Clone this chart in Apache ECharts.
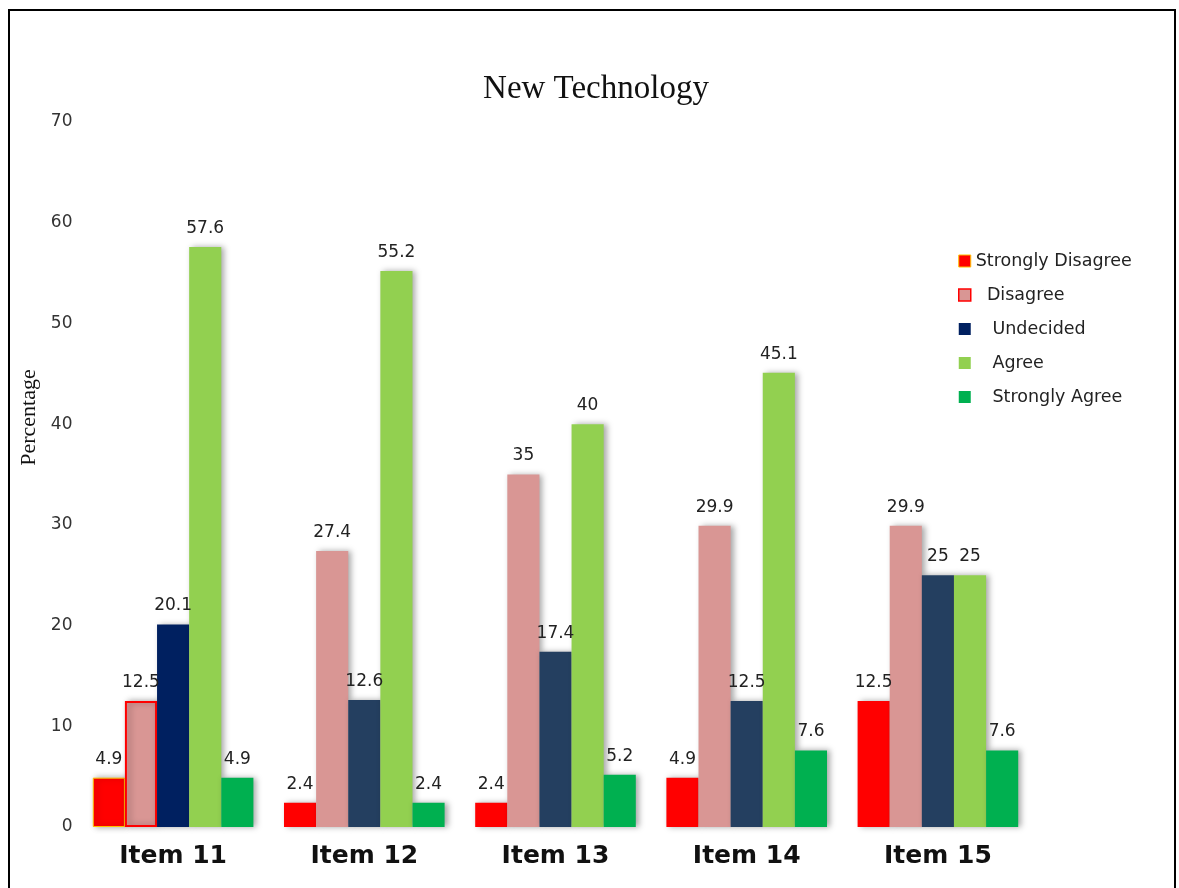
<!DOCTYPE html>
<html>
<head>
<meta charset="utf-8">
<title>New Technology</title>
<script src="https://cdn.jsdelivr.net/npm/echarts@6/dist/echarts.min.js"></script>
<style>
  html, body { margin: 0; padding: 0; background: #fff; }
  #chart { width: 1179px; height: 888px; }
</style>
</head>
<body>
<div id="chart"></div>
<script>
// Response categories per survey item (percent of respondents)
const categories = ['Item 11', 'Item 12', 'Item 13', 'Item 14', 'Item 15'];
const seriesNames = ['Strongly Disagree', 'Disagree', 'Undecided', 'Agree', 'Strongly Agree'];
const stronglyDisagree = [4.9, 2.4, 2.4, 4.9, 12.5];
const disagree = [12.5, 27.4, 35, 29.9, 29.9];
const undecided = [20.1, 12.6, 17.4, 12.5, 25];
const agree = [57.6, 55.2, 40, 45.1, 25];
const stronglyAgree = [4.9, 2.4, 5.2, 7.6, 7.6];
const yTicks = [0, 10, 20, 30, 40, 50, 60, 70];

const colors = ['#ff0000', '#d99694', '#243f60', '#92d050', '#00b050'];
const values = [stronglyDisagree, disagree, undecided, agree, stronglyAgree];

// First group has its own outline / fill tweaks
const firstGroupStyle = [
  { borderColor: '#ffc000', borderWidth: 1 },
  { borderColor: '#ff0000', borderWidth: 2 },
  { color: '#002060' },
  null,
  null
];
const legendStyle = [
  { borderColor: '#ffc000', borderWidth: 1 },
  { borderColor: '#ff0000', borderWidth: 1.5 },
  { color: '#002060' },
  {},
  {}
];
const legendPad = ['', '  ', '   ', '   ', '   '];

const labelFont = 'DejaVu Sans';

const chart = echarts.init(document.getElementById('chart'), null, { renderer: 'canvas' });

const series = seriesNames.map((name, i) => ({
  name: name,
  type: 'bar',
  barGap: '0%',
  barCategoryGap: '16%',
  data: values[i].map((v, j) => {
    const item = { value: v };
    if (j === 0 && firstGroupStyle[i]) item.itemStyle = firstGroupStyle[i];
    return item;
  }),
  itemStyle: {
    color: colors[i],
    shadowColor: 'rgba(0,0,0,0.35)',
    shadowBlur: 6,
    shadowOffsetX: 3,
    shadowOffsetY: 0
  },
  label: {
    show: true,
    position: 'top',
    distance: 10,
    color: '#222',
    fontFamily: labelFont,
    fontSize: 17
  },
  emphasis: { disabled: true }
}));

chart.setOption({
  animation: false,
  backgroundColor: '#fff',
  title: {
    text: 'New Technology',
    left: 591,
    top: 68,
    textAlign: 'center',
    textStyle: {
      fontFamily: 'Liberation Serif',
      fontWeight: 'normal',
      fontSize: 33,
      color: '#111'
    }
  },
  legend: {
    orient: 'vertical',
    left: 953,
    top: 247,
    itemWidth: 12,
    itemHeight: 12,
    itemGap: 16,
    icon: 'rect',
    data: seriesNames.map((n, i) => ({ name: n, itemStyle: legendStyle[i] })),
    formatter: name => legendPad[seriesNames.indexOf(name)] + name,
    textStyle: {
      fontFamily: labelFont,
      fontSize: 17.5,
      color: '#222'
    }
  },
  grid: {
    left: 77.5,
    right: 1179 - 1033.5,
    top: 122,
    bottom: 61,
    containLabel: false
  },
  xAxis: {
    type: 'category',
    data: categories,
    axisLine: { show: false },
    axisTick: { show: false },
    axisLabel: {
      margin: 17,
      fontFamily: 'DejaVu Sans',
      fontWeight: 'bold',
      fontSize: 25,
      color: '#111'
    }
  },
  yAxis: {
    type: 'value',
    min: yTicks[0],
    max: yTicks[yTicks.length - 1],
    interval: 10,
    name: 'Percentage',
    nameLocation: 'middle',
    nameRotate: 90,
    nameGap: 34,
    nameTextStyle: {
      fontFamily: 'Liberation Serif',
      fontSize: 22,
      color: '#111',
      padding: [0, 0, 0, 114]
    },
    axisLine: { show: false },
    axisTick: { show: false },
    splitLine: { show: false },
    axisLabel: {
      margin: 5,
      padding: [5, 0, 0, 0],
      fontFamily: labelFont,
      fontSize: 17,
      color: '#333'
    }
  },
  graphic: [{
    type: 'rect',
    shape: { x: 9, y: 10, width: 1166, height: 900 },
    style: { fill: 'none', stroke: '#000', lineWidth: 2 },
    silent: true,
    z: 100
  }],
  series: series
});
</script>
</body>
</html>
